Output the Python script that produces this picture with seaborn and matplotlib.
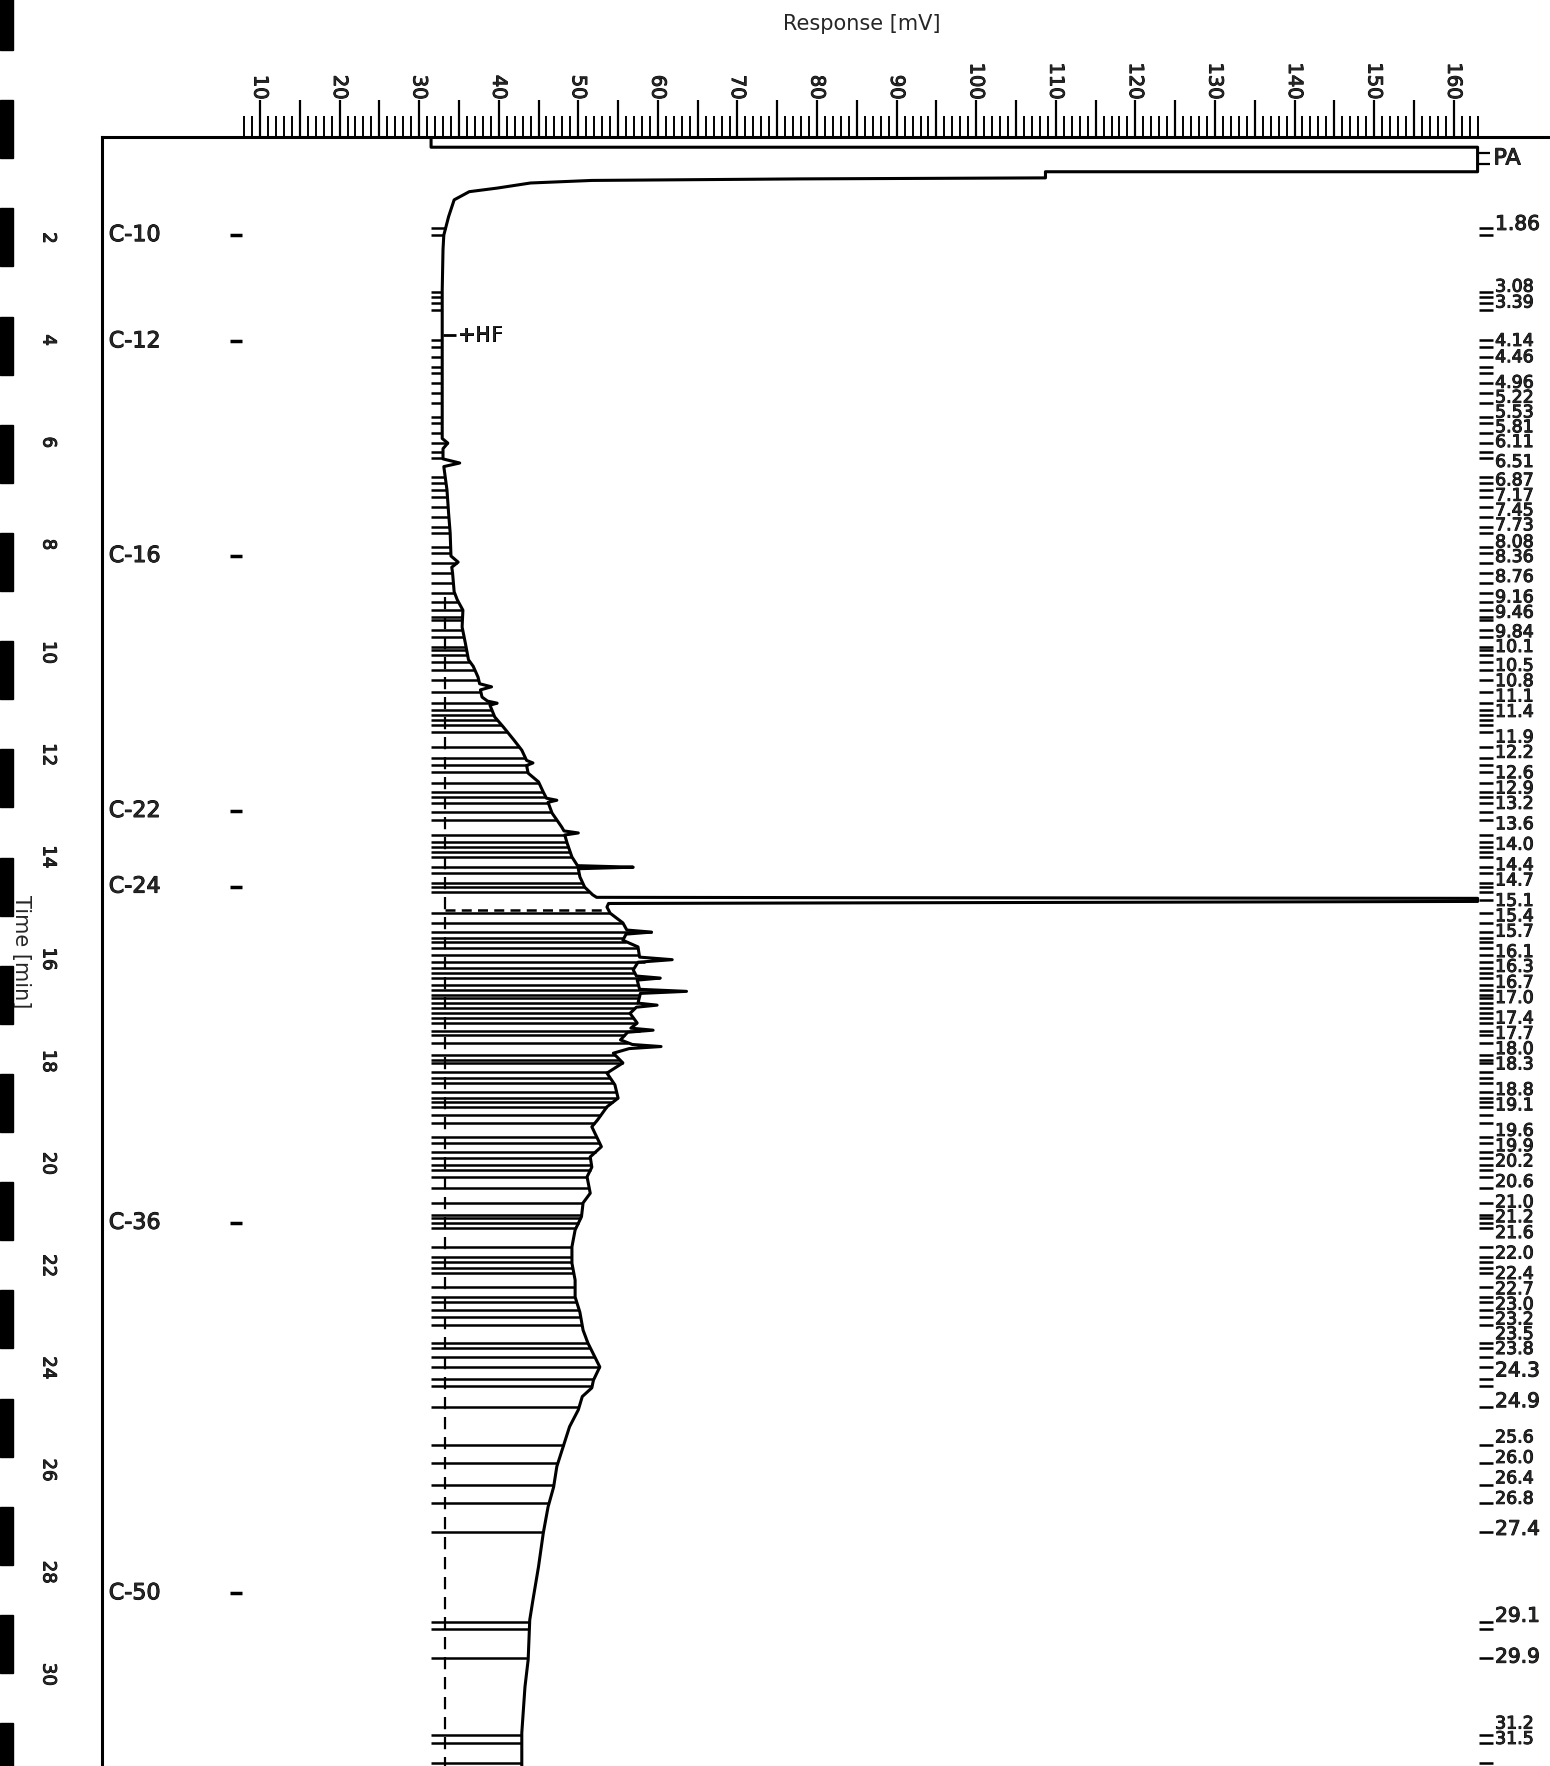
import numpy as np
import matplotlib
matplotlib.use("Agg")
import matplotlib.pyplot as plt
import matplotlib.patheffects as pe
from matplotlib.ticker import FixedLocator, FuncFormatter
from matplotlib.patches import Rectangle
import seaborn as sns

# detector trace: time [min] and response [mV]
trace_t = [0.00, 0.20, 0.20, 0.68, 0.68, 0.80, 0.82, 0.85, 0.90, 1.00, 1.07, 1.23,
           1.56, 1.92, 2.2, 3.0, 4.0, 5.0, 5.9, 5.99, 6.1, 6.3, 6.38, 6.45, 6.91,
           7.36, 7.75, 8.2, 8.32, 8.42, 8.53, 8.9, 9.06, 9.26, 9.59, 9.9, 10.23,
           10.36, 10.57, 10.7, 10.76, 10.82, 10.96, 11.04, 11.08, 11.12, 11.35,
           11.55, 11.8, 12.0, 12.2, 12.25, 12.3, 12.45, 12.62, 12.82, 12.94, 12.98,
           13.02, 13.23, 13.5, 13.58, 13.62, 13.66, 13.82, 14.09, 14.26, 14.29,
           14.32, 14.48, 14.68, 14.83, 14.88, 14.90, 14.96, 15.0, 15.07, 15.19,
           15.38, 15.52, 15.56, 15.6, 15.72, 15.85, 16.05, 16.1, 16.15, 16.3,
           16.42, 16.46, 16.5, 16.68, 16.72, 16.76, 16.95, 16.99, 17.03, 17.15,
           17.34, 17.44, 17.48, 17.52, 17.67, 17.76, 17.8, 17.84, 17.93, 18.12,
           18.32, 18.55, 18.81, 18.98, 19.24, 19.37, 19.76, 19.96, 20.16, 20.35,
           20.67, 20.86, 21.13, 21.39, 21.72, 22.04, 22.37, 22.7, 23.0, 23.35,
           23.6, 24.07, 24.33, 24.48, 24.65, 24.91, 25.24, 25.63, 26.02, 26.42,
           26.81, 27.32, 27.98, 28.63, 29.02, 29.8, 30.33, 31.23, 31.88]
trace_mv = [31.5, 31.5, 163.0, 163.0, 108.7, 108.7, 77.8, 51.7, 44.0, 39.8, 36.3, 34.4,
            33.7, 33.1, 33.0, 32.9, 32.9, 32.9, 32.9, 33.6, 33.0, 33.0, 35.1, 33.1, 33.5,
            33.7, 33.9, 34.0, 34.9, 34.1, 34.2, 34.4, 34.8, 35.5, 35.4, 35.8, 36.2,
            36.8, 37.4, 37.6, 39.1, 37.7, 37.9, 38.6, 39.8, 38.9, 39.5,
            40.6, 41.9, 42.9, 43.5, 44.3, 43.5, 43.7, 45.0, 45.6, 46.0, 47.3,
            46.2, 46.7, 47.9, 48.2, 50.0, 48.3, 48.6, 49.2, 49.9, 56.9,
            50.0, 50.2, 50.8, 51.8, 52.3, 163.0, 163.0, 53.8, 53.6, 54.0,
            55.6, 56.1, 59.2, 56.0, 55.6, 57.5, 57.7, 61.8, 57.5, 56.9,
            57.3, 60.3, 57.4, 57.7, 63.6, 57.8, 57.5, 59.9, 57.3, 56.5,
            57.4, 56.6, 59.4, 56.2, 55.3, 56.8, 60.4, 56.4, 54.4, 55.6,
            53.6, 54.6, 55.0, 53.6, 52.4, 51.7, 52.9, 51.5, 51.7, 51.1,
            51.5, 50.6, 50.4, 49.6, 49.2, 49.2, 49.6, 49.6, 50.2, 50.6,
            51.2, 52.7, 51.9, 51.7, 50.5, 50.0, 48.9, 48.1, 47.3, 46.9,
            46.2, 45.6, 45.0, 44.3, 43.9, 43.7, 43.3, 42.9, 42.9]

# integration marks (peak times on the time axis)
peak_t = [1.78, 1.92, 3.03, 3.13, 3.25, 3.39, 3.97, 4.11, 4.31, 4.5, 4.62, 4.81, 5.01,
          5.2, 5.48, 5.6, 5.79, 5.99, 6.16, 6.28, 6.65, 6.77, 6.91, 7.04, 7.24, 7.43,
          7.63, 7.75, 8.02, 8.14, 8.34, 8.53, 8.73, 8.92,
          9.1, 9.26, 9.39, 9.45, 9.65, 9.79, 9.98, 10.04, 10.14, 10.28, 10.43, 10.63,
          10.86, 11.08, 11.21, 11.31, 11.41, 11.51, 11.64, 11.94, 12.15, 12.29, 12.43,
          12.64, 12.82, 12.92, 13.03, 13.21, 13.37, 13.66, 13.8, 13.9, 13.99, 14.09,
          14.29, 14.4, 14.6, 14.68, 14.77,
          15.19, 15.38, 15.56, 15.68, 15.75, 15.87, 16.01, 16.14, 16.26, 16.36, 16.46,
          16.59, 16.69, 16.79, 16.85, 16.95, 17.05, 17.14, 17.24, 17.34,
          17.5, 17.57, 17.73, 17.96, 18.06, 18.12, 18.3, 18.41, 18.51, 18.69, 18.81,
          18.89, 18.98, 19.14, 19.3, 19.57, 19.69, 19.86, 19.98, 20.12, 20.21, 20.35,
          20.57, 20.86, 21.1, 21.15, 21.25, 21.35, 21.72, 21.92, 22.01, 22.13, 22.23,
          22.5, 22.7,
          22.8, 22.96, 23.1, 23.24, 23.6, 23.7, 23.88, 24.07, 24.3, 24.45, 24.85, 25.6,
          25.95, 26.38, 26.73, 27.3, 29.06, 29.2, 29.77, 31.27, 31.43, 31.82]
big_peak_t = 14.93

# retention times printed on the right
rt_labels = [1.86, 3.08, 3.39, 4.14, 4.46, 4.96, 5.22, 5.53, 5.81, 6.11, 6.51, 6.87,
             7.17, 7.45, 7.73, 8.08, 8.36, 8.76, 9.16, 9.46, 9.84, 10.1, 10.5, 10.8,
             11.1, 11.4, 11.9, 12.2, 12.6, 12.9, 13.2, 13.6, 14.0, 14.4, 14.7, 15.1,
             15.4, 15.7, 16.1, 16.3, 16.7, 17.0, 17.4, 17.7, 18.0, 18.3, 18.8, 19.1,
             19.6, 19.9, 20.2, 20.6, 21.0, 21.2, 21.6, 22.0, 22.4, 22.7, 23.0, 23.2,
             23.5, 23.8, 24.3, 24.9, 25.6, 26.0, 26.4, 26.8, 27.4, 29.1, 29.9, 31.2, 31.5]

# n-alkane markers on the left
alkanes = ["C-10", "C-12", "C-16", "C-22", "C-24", "C-36", "C-50"]
alkane_t = [1.92, 4.0, 8.2, 13.19, 14.67, 21.25, 28.5]

hf_t = 3.87
pa_t = 0.42
baseline_mv = 33.2
baseline_start = 9.0
peak_base_t = 15.13
mark_start_mv = 31.5
t_end = 31.88
label_shift = 0.15
label_min_gap = 0.29

sns.set_style("white")
plt.rcParams['font.family'] = ['DejaVu Sans', 'Liberation Sans']

ink = [pe.withStroke(linewidth=0.7, foreground='k')]

W, H = 1550, 1766
fig = plt.figure(figsize=(W / 100, H / 100), dpi=100)
ax = fig.add_axes([102 / W, 0, 1 - 102 / W, 1 - 137 / H])
ax.set_xlim(-9.85, 172.1)
ax.set_ylim(t_end, 0)

# baseline and peak-base dashed lines
ax.vlines(baseline_mv, baseline_start, t_end, color='k', lw=1.6,
          linestyles=(0, (5.5, 3.5)))
ax.hlines(peak_base_t, baseline_mv, np.interp(peak_base_t, trace_t, trace_mv),
          color='k', lw=1.8, linestyles=(0, (4, 2.5)))

# drop lines from the start of the scale to the trace
ends = np.interp(peak_t, trace_t, trace_mv)
ax.hlines(peak_t, mark_start_mv, ends, color='k', lw=1.8)

sns.lineplot(x=trace_mv, y=trace_t, sort=False, estimator=None, color='k',
             lw=2.2, ax=ax)

# peak dashes + retention labels on the right (nudged apart when crowded)
ax.hlines(list(peak_t) + [big_peak_t], 163.2, 164.9, color='k', lw=1.8)
rts = np.array(rt_labels)
gaps = np.minimum(np.diff(rts, prepend=-9), np.diff(rts, append=99))
ypos = rts - label_shift
for i in range(1, len(ypos)):
    ypos[i] = max(ypos[i], ypos[i - 1] + label_min_gap)
for rt, g, y in zip(rt_labels, gaps, ypos):
    s = f"{rt:.2f}" if rt < 10 else f"{rt:.1f}"
    size = 14.5 if g > 0.45 else 12.5
    ax.text(165.2, y, s, ha='left', va='center', fontsize=size,
            clip_on=False, path_effects=ink)

# PA marker
ax.hlines([0.31, 0.52], 163.0, 164.6, color='k', lw=1.6)
ax.text(165.0, pa_t, "PA", ha='left', va='center', fontsize=16, path_effects=ink)

# HF event
ax.hlines(hf_t, 33.0, 34.6, color='k', lw=2)
ax.text(34.8, hf_t, "+HF", ha='left', va='center', fontsize=15, path_effects=ink)

# alkane labels
for name, t in zip(alkanes, alkane_t):
    ax.text(-9.0, t, name, ha='left', va='center', fontsize=16, path_effects=ink)
ax.hlines(alkane_t, 6.2, 7.7, color='k', lw=2.5)

# axes styling
for side in ['right', 'bottom']:
    ax.spines[side].set_visible(False)
for side in ['top', 'left']:
    ax.spines[side].set_linewidth(2.2)
    ax.spines[side].set_color('k')

ax.xaxis.tick_top()
ax.xaxis.set_major_locator(FixedLocator(np.arange(10, 165, 5)))
ax.xaxis.set_minor_locator(FixedLocator(np.arange(8, 164, 1)))
ax.xaxis.set_major_formatter(FuncFormatter(
    lambda v, p: f"{int(round(v))}" if int(round(v)) % 10 == 0 else ""))
ax.tick_params(axis='x', which='major', direction='out', length=27, width=1.6,
               labelsize=14, labelrotation=-90, pad=0, color='k')
ax.tick_params(axis='x', which='minor', direction='out', length=15, width=1.4,
               color='k')

ax.yaxis.set_major_locator(FixedLocator(np.arange(1, 32, 1)))
ax.yaxis.set_minor_locator(FixedLocator(np.arange(0.2, 31.9, 0.2)))
ax.yaxis.set_major_formatter(FuncFormatter(
    lambda v, p: f"{int(round(v))}" if int(round(v)) % 2 == 0 else ""))
ax.tick_params(axis='y', which='major', direction='out', length=29, width=1.6,
               labelsize=13, labelrotation=-90, pad=3, color='k')
ax.tick_params(axis='y', which='minor', direction='out', length=18, width=1.6,
               color='k')
for lab in ax.get_xticklabels() + ax.get_yticklabels():
    lab.set_path_effects(ink)

ax.set_xlabel("Response [mV]", fontsize=15)
ax.xaxis.set_label_position('top')
ax.xaxis.set_label_coords(0.525, 1.0655)
ax.set_ylabel("Time [min]", fontsize=15, rotation=-90)
ax.yaxis.set_label_coords(-0.063, 0.50)
ax.grid(False)

# film sprocket marks along the left edge
for k in range(17):
    y0 = -8 + 108.2 * k
    fig.patches.append(Rectangle((0, 1 - (y0 + 58) / H), 13 / W, 58 / H,
                                 transform=fig.transFigure, color='k'))

fig.savefig("out.png", dpi=100)
